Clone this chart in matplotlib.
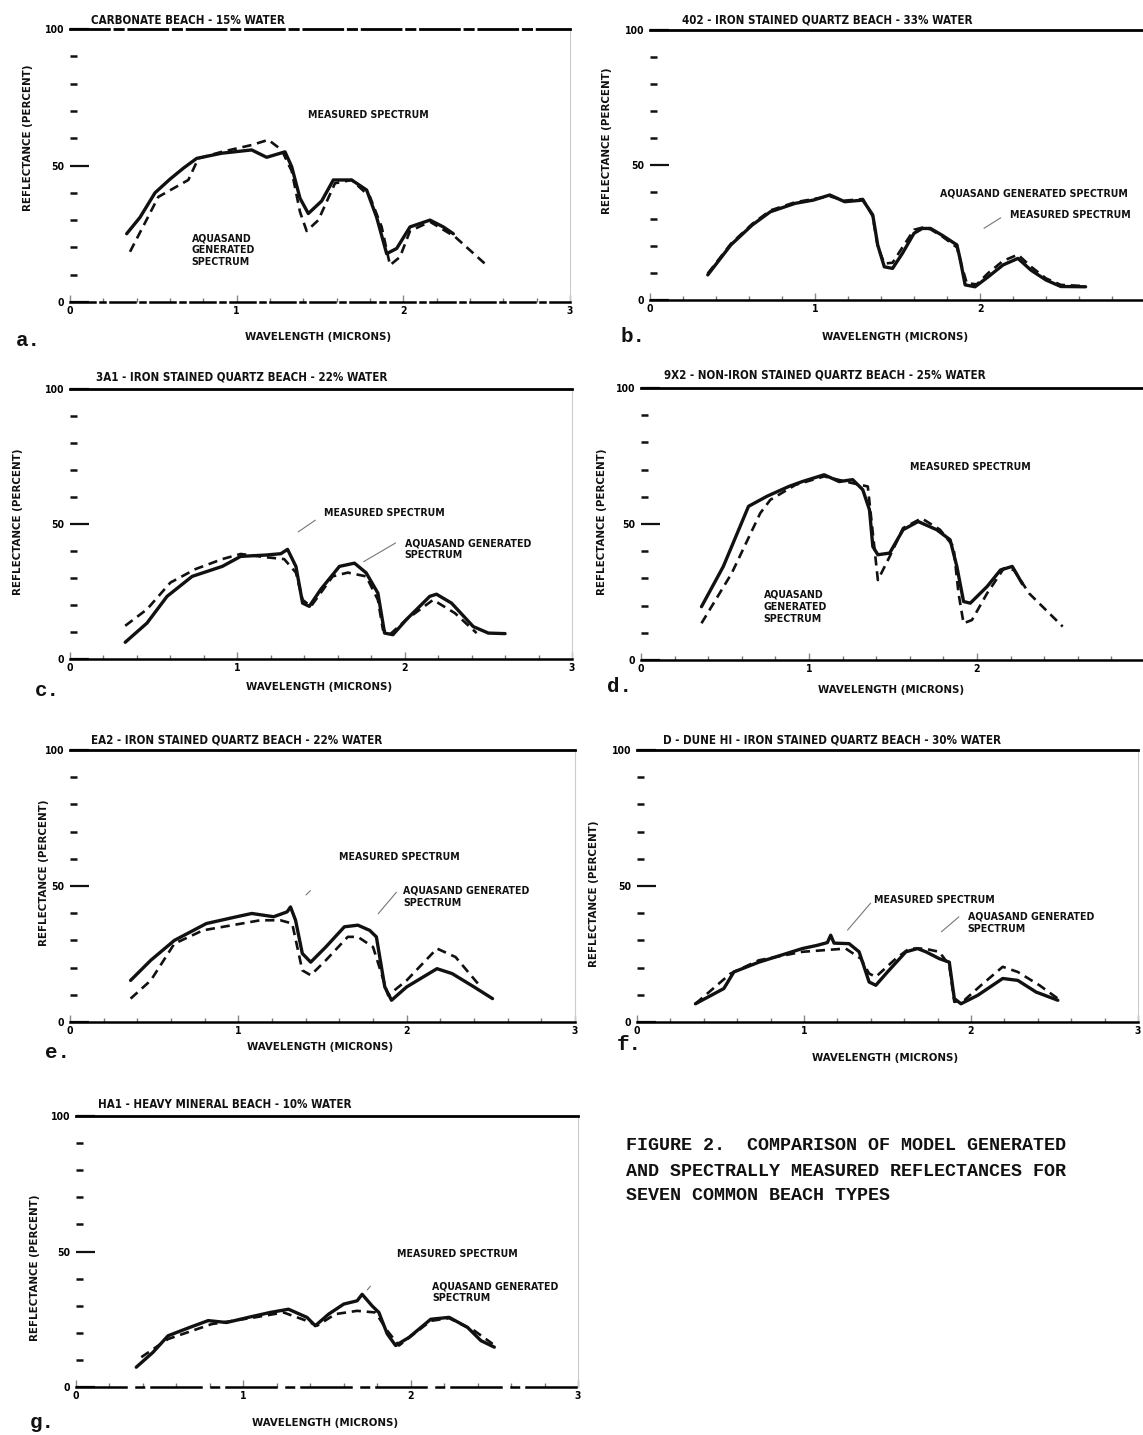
import numpy as np
import matplotlib
matplotlib.use("Agg")
import matplotlib.pyplot as plt

plt.rcParams['font.family'] = ['DejaVu Sans']
plt.rcParams['font.stretch'] = 'condensed'
plt.rcParams['font.weight'] = 'bold'

# ---- data (wavelength in microns, reflectance in %) ----
# a. carbonate beach
wl_meas_a = [0.34, 0.42, 0.51, 0.60, 0.68, 0.76, 0.91, 1.09, 1.18, 1.29, 1.33, 1.38, 1.43, 1.51,
             1.58, 1.69, 1.78, 1.84, 1.90, 1.96, 2.04, 2.16, 2.24, 2.30]
r_meas_a = [25, 31, 40, 45, 49, 52.6, 54.5, 55.7, 53, 55, 49.6, 38, 32.4, 37,
            44.7, 44.7, 41, 31, 17.7, 19.6, 27.5, 30, 27.5, 25]
wl_gen_a = [0.36, 0.45, 0.53, 0.71, 0.77, 0.91, 1.09, 1.19, 1.27, 1.33, 1.38, 1.42, 1.49, 1.59,
            1.69, 1.80, 1.87, 1.92, 1.98, 2.04, 2.16, 2.31, 2.49]
r_gen_a = [18.4, 29, 38.5, 44.7, 52.6, 55, 57.5, 59.4, 55.7, 48, 33, 26, 30, 43.5,
           44.7, 38.5, 27.5, 13.5, 16.5, 26, 29.4, 23.9, 14]

# b. 402 iron stained quartz
wl_meas_b = [0.35, 0.49, 0.62, 0.73, 0.88, 0.99, 1.09, 1.18, 1.29, 1.35, 1.38, 1.42, 1.47, 1.53,
             1.60, 1.65, 1.70, 1.77, 1.86, 1.88, 1.91, 1.97, 2.05, 2.14, 2.23, 2.31, 2.40, 2.49, 2.64]
r_meas_b = [9.3, 20.4, 27.8, 32.7, 35.8, 37, 38.9, 36.4, 37, 31.5, 20.4, 12.3, 11.7, 17.3,
            24.7, 26.5, 26.5, 24, 20.4, 15, 5.6, 4.9, 8.6, 13, 15.4, 11, 7.4, 5, 4.9]
wl_gen_b = [0.35, 0.49, 0.62, 0.73, 0.88, 0.99, 1.09, 1.18, 1.29, 1.35, 1.38, 1.42, 1.47, 1.53,
            1.60, 1.65, 1.70, 1.77, 1.86, 1.89, 1.92, 1.98, 2.05, 2.14, 2.23, 2.31, 2.40, 2.49, 2.62]
r_gen_b = [9.8, 20.8, 28.2, 33.2, 36.2, 37.4, 38.4, 36.8, 37.4, 31, 19.8, 13.5, 13.8, 19.5,
           26, 26.8, 26.2, 23.6, 19.5, 12.5, 6.2, 5.8, 10, 14.5, 16.8, 12.3, 8, 5.6, 5.2]

# c. 3A1
wl_meas_c = [0.33, 0.46, 0.58, 0.73, 0.91, 1.02, 1.17, 1.26, 1.30, 1.35, 1.39, 1.43, 1.50, 1.61,
             1.70, 1.77, 1.84, 1.88, 1.93, 2.01, 2.15, 2.19, 2.28, 2.41, 2.50, 2.60]
r_meas_c = [6.2, 13.3, 23.2, 30.6, 34.3, 38, 38.5, 39, 40.6, 34.3, 20.7, 19.5, 25.9, 34.3,
            35.5, 31.9, 24.4, 9.6, 9, 14.6, 23.2, 24, 20.7, 12, 9.6, 9.4]
wl_gen_c = [0.33, 0.46, 0.60, 0.75, 0.91, 1.02, 1.17, 1.28, 1.35, 1.39, 1.44, 1.57, 1.66, 1.77,
            1.84, 1.87, 1.91, 2.01, 2.17, 2.30, 2.43]
r_gen_c = [12.3, 18.4, 28.3, 33.3, 37, 38.9, 37.7, 37, 32, 21.9, 19.5, 30.6, 32, 30.6,
           21.9, 10.9, 9, 14.6, 21.9, 17, 9.6]

# d. non-iron stained quartz
wl_meas_d = [0.36, 0.49, 0.64, 0.75, 0.88, 0.96, 1.09, 1.18, 1.26, 1.32, 1.36, 1.38, 1.41, 1.48,
             1.56, 1.65, 1.76, 1.84, 1.88, 1.92, 1.96, 2.06, 2.14, 2.21, 2.27]
r_meas_d = [19.6, 34.4, 56.5, 60.2, 63.8, 65.6, 68.1, 65.6, 66.3, 62.6, 55.2, 41.7, 38.7, 39.3,
            47.9, 50.9, 47.9, 44.2, 34.4, 21.5, 20.9, 27, 33.1, 34.4, 28]
wl_gen_d = [0.36, 0.54, 0.71, 0.77, 0.92, 1.09, 1.26, 1.35, 1.38, 1.41, 1.48, 1.56, 1.67, 1.78,
            1.86, 1.89, 1.92, 1.97, 2.06, 2.16, 2.22, 2.31, 2.51]
r_gen_d = [13.5, 31.9, 54, 58.9, 64.4, 67.5, 65, 63.8, 46.6, 29.4, 38, 48.5, 52.1, 47.9,
           41.7, 24.5, 13.5, 14.7, 24.5, 33.7, 33.1, 24.5, 12.3]

# e. EA2
wl_meas_e = [0.36, 0.48, 0.62, 0.81, 0.99, 1.08, 1.21, 1.29, 1.31, 1.34, 1.38, 1.43, 1.52, 1.63,
             1.71, 1.78, 1.82, 1.87, 1.91, 2.00, 2.18, 2.27, 2.40, 2.51]
r_meas_e = [15.3, 22.7, 30, 36.2, 38.7, 39.9, 38.7, 40.5, 42.3, 37.4, 25.2, 22, 27.6, 35,
            35.6, 33.7, 31.3, 12.9, 8, 12.9, 19.6, 17.8, 12.9, 8.6]
wl_gen_e = [0.36, 0.48, 0.62, 0.79, 1.02, 1.13, 1.25, 1.32, 1.38, 1.43, 1.52, 1.65, 1.71, 1.80,
            1.85, 1.89, 2.00, 2.18, 2.29, 2.44]
r_gen_e = [8.6, 15.3, 28.8, 33.7, 36.2, 37.4, 37.4, 36.2, 19, 17.2, 22.7, 31.3, 31.3, 27.6,
           17.8, 9.8, 15.3, 27, 23.9, 12.9]

# f. dune HI
wl_meas_f = [0.35, 0.52, 0.58, 0.73, 0.86, 0.99, 1.08, 1.14, 1.16, 1.18, 1.27, 1.33, 1.39, 1.43,
             1.50, 1.61, 1.68, 1.73, 1.81, 1.87, 1.90, 1.94, 2.04, 2.19, 2.28, 2.39, 2.52]
r_meas_f = [6.7, 12.3, 18.4, 22, 24.5, 27, 28.2, 29.2, 31.9, 29, 28.8, 25.8, 14.7, 13.5,
            18.4, 25.8, 27, 25.8, 23.3, 22, 8.6, 6.7, 9.8, 16, 15.3, 11, 8]
wl_gen_f = [0.35, 0.56, 0.73, 0.99, 1.25, 1.34, 1.39, 1.43, 1.55, 1.63, 1.72, 1.81, 1.87, 1.90,
            1.96, 2.06, 2.19, 2.28, 2.41, 2.52]
r_gen_f = [6.7, 17.8, 22.7, 25.8, 27, 23.3, 17.8, 16.6, 23.3, 27, 27, 25.8, 20.9, 7.4,
           8, 13.5, 20.3, 18.4, 13.5, 8.6]

# g. heavy mineral
wl_meas_g = [0.36, 0.46, 0.55, 0.68, 0.79, 0.90, 1.03, 1.16, 1.27, 1.38, 1.43, 1.51, 1.60, 1.68,
             1.71, 1.77, 1.81, 1.86, 1.91, 1.99, 2.12, 2.23, 2.34, 2.42, 2.50]
r_meas_g = [7.3, 12.8, 18.9, 22, 24.5, 23.8, 25.7, 27.5, 28.7, 25.7, 22.6, 26.9, 30.6, 31.8,
            34.2, 29.9, 27.5, 19.6, 15.3, 18.3, 25, 25.7, 22, 17.1, 14.7]
wl_gen_g = [0.39, 0.55, 0.81, 1.07, 1.24, 1.38, 1.44, 1.55, 1.68, 1.79, 1.86, 1.93, 2.12, 2.23,
            2.38, 2.49]
r_gen_g = [11, 17.7, 23.2, 25.7, 27.5, 24.4, 22.6, 26.9, 28.1, 27.5, 20.8, 15.3, 24.4, 25.4,
           20.8, 15.9]

titles = {
    'a': "CARBONATE BEACH - 15% WATER",
    'b': "402 - IRON STAINED QUARTZ BEACH - 33% WATER",
    'c': "3A1 - IRON STAINED QUARTZ BEACH - 22% WATER",
    'd': "9X2 - NON-IRON STAINED QUARTZ BEACH - 25% WATER",
    'e': "EA2 - IRON STAINED QUARTZ BEACH - 22% WATER",
    'f': "D - DUNE HI - IRON STAINED QUARTZ BEACH - 30% WATER",
    'g': "HA1 - HEAVY MINERAL BEACH - 10% WATER",
}
letters = {'a': 'a.', 'b': 'b.', 'c': 'c.', 'd': 'd.', 'e': 'e.', 'f': 'f.', 'g': 'g.'}
xtick_labels = ['0', '1', '2', '3']

series = {
    'a': (wl_meas_a, r_meas_a, wl_gen_a, r_gen_a),
    'b': (wl_meas_b, r_meas_b, wl_gen_b, r_gen_b),
    'c': (wl_meas_c, r_meas_c, wl_gen_c, r_gen_c),
    'd': (wl_meas_d, r_meas_d, wl_gen_d, r_gen_d),
    'e': (wl_meas_e, r_meas_e, wl_gen_e, r_gen_e),
    'f': (wl_meas_f, r_meas_f, wl_gen_f, r_gen_f),
    'g': (wl_meas_g, r_meas_g, wl_gen_g, r_gen_g),
}

# ---- layout in pixels of the 1143 x 1435 page ----
W, H = 1143, 1435
# x of 0 micron, x of 3 micron, y of 100 %, y of 0 %
boxes = {
    'a': (70, 570, 29, 302),
    'b': (650, 1145, 30, 300),
    'c': (70, 572, 389, 659),
    'd': (641, 1145, 388, 660),
    'e': (70, 575, 750, 1022),
    'f': (637, 1138, 750, 1022),
    'g': (76, 578, 1116, 1387),
}
title_pos = {'a': (91, 20), 'b': (682, 20), 'c': (96, 377), 'd': (664, 375),
             'e': (91, 740), 'f': (663, 740), 'g': (98, 1105)}
letter_pos = {'a': (16, 340), 'b': (620, 337), 'c': (35, 690), 'd': (607, 686),
              'e': (45, 1052), 'f': (617, 1045), 'g': (30, 1422)}
ylab_x = {'a': 28, 'b': 607, 'c': 18, 'd': 602, 'e': 44, 'f': 594, 'g': 35}
ylab_frac = {'a': 0.60, 'b': 0.59, 'c': 0.51, 'd': 0.51, 'e': 0.55, 'f': 0.47, 'g': 0.44}
xlab_y = {'a': 337, 'b': 337, 'c': 687, 'd': 690, 'e': 1047, 'f': 1058, 'g': 1423}

ink = '#111111'
fs = 7.6


def px2fig(x, y):
    return x / W, 1 - y / H


fig = plt.figure(figsize=(W / 100, H / 100), dpi=100)
axes = {}
for k, (x0, x3, y100, y0) in boxes.items():
    ax = fig.add_axes([x0 / W, 1 - y0 / H, (x3 - x0) / W, (y0 - y100) / H])
    axes[k] = ax
    wm, rm, wg, rg = series[k]
    ax.plot(wg, rg, color=ink, lw=1.9, ls=(0, (3.5, 2.2)), solid_joinstyle='round')
    ax.plot(wm, rm, color=ink, lw=2.4, solid_joinstyle='round', solid_capstyle='round')
    ax.set_xlim(0, 3)
    ax.set_ylim(0, 100)
    ax.spines['left'].set_visible(False)
    ax.spines['right'].set_color('#cccccc')
    ax.spines['right'].set_linewidth(0.8)
    ax.spines['top'].set_linewidth(2.0)
    ax.spines['bottom'].set_linewidth(1.8)
    ax.set_yticks([0, 50, 100])
    ax.set_yticklabels(['0', '50', '100'])
    ax.set_yticks(np.arange(10, 100, 10), minor=True)
    ax.set_xticks([0, 1, 2, 3])
    if k in ('b', 'd'):
        ax.set_xticklabels(xtick_labels[:3] + [''])
    else:
        ax.set_xticklabels(xtick_labels)
    ax.set_xticks(np.arange(0.2, 3, 0.2), minor=True)
    ax.tick_params(axis='y', which='major', direction='in', length=14, width=1.6,
                   labelsize=7.5, pad=4, color=ink)
    ax.tick_params(axis='y', which='minor', direction='in', length=5, width=1.8, color=ink)
    ax.tick_params(axis='x', which='major', direction='in', length=5, width=1.0,
                   labelsize=7.5, pad=3, color='#888888')
    ax.tick_params(axis='x', which='minor', direction='in', length=3, width=1.0, color='#777777')
    ax.patch.set_alpha(0)

    tx, ty = title_pos[k]
    fig.text(*px2fig(tx, ty), titles[k], fontsize=8.3, va='center', ha='left', color=ink)
    lx, ly = letter_pos[k]
    fig.text(*px2fig(lx, ly), letters[k], fontsize=15, va='center', ha='left',
             family='Liberation Mono', weight='bold', stretch='normal', color=ink)
    ax.text((ylab_x[k] - x0) / (x3 - x0), ylab_frac[k], 'REFLECTANCE (PERCENT)',
            transform=ax.transAxes, rotation=90, fontsize=8.2, ha='center', va='center',
            color=ink)
    fig.text(((x0 + x3) / 2 - 2) / W, 1 - xlab_y[k] / H, 'WAVELENGTH (MICRONS)',
             fontsize=8.2, ha='center', va='center', color=ink)

# dash-dot baselines of the poorer scans
axes['a'].spines['bottom'].set_linestyle((0, (10, 2, 2, 2)))
axes['a'].spines['top'].set_linestyle((0, (14, 2, 3, 2)))
axes['g'].spines['bottom'].set_linestyle((0, (20, 4, 3, 3)))

# ---- annotation labels ----
lab = dict(fontsize=fs, color=ink, ha='left', va='center', linespacing=1.25)
ptr = dict(arrowstyle='-', color='#777777', lw=0.8)

ax = axes['a']
ax.text(1.43, 68.5, 'MEASURED SPECTRUM', **lab)
ax.text(0.73, 19, 'AQUASAND\nGENERATED\nSPECTRUM', **lab)

ax = axes['b']
ax.text(1.76, 39.5, 'AQUASAND GENERATED SPECTRUM', **lab)
ax.text(2.18, 31.5, 'MEASURED SPECTRUM', **lab)
ax.annotate('', xy=(2.01, 26), xytext=(2.14, 31), arrowprops=ptr)

ax = axes['c']
ax.text(1.52, 54, 'MEASURED SPECTRUM', **lab)
ax.annotate('', xy=(1.35, 46.5), xytext=(1.48, 52), arrowprops=ptr)
ax.text(2.0, 40.6, 'AQUASAND GENERATED\nSPECTRUM', **lab)
ax.annotate('', xy=(1.74, 35.5), xytext=(1.96, 43.5), arrowprops=ptr)

ax = axes['d']
ax.text(1.6, 71, 'MEASURED SPECTRUM', **lab)
ax.text(0.73, 19.5, 'AQUASAND\nGENERATED\nSPECTRUM', **lab)

ax = axes['e']
ax.text(1.6, 60.7, 'MEASURED SPECTRUM', **lab)
ax.annotate('', xy=(1.39, 46), xytext=(1.44, 49), arrowprops=ptr)
ax.text(1.98, 46, 'AQUASAND GENERATED\nSPECTRUM', **lab)
ax.annotate('', xy=(1.82, 39), xytext=(1.95, 48.5), arrowprops=ptr)

ax = axes['f']
ax.text(1.42, 44.8, 'MEASURED SPECTRUM', **lab)
ax.annotate('', xy=(1.25, 33), xytext=(1.41, 44.5), arrowprops=ptr)
ax.text(1.98, 36.5, 'AQUASAND GENERATED\nSPECTRUM', **lab)
ax.annotate('', xy=(1.81, 32.5), xytext=(1.94, 39.3), arrowprops=ptr)

ax = axes['g']
ax.text(1.92, 48.9, 'MEASURED SPECTRUM', **lab)
ax.text(2.13, 35, 'AQUASAND GENERATED\nSPECTRUM', **lab)
ax.annotate('', xy=(1.73, 35), xytext=(1.77, 38), arrowprops=ptr)

# ---- caption ----
cap = ["FIGURE 2.  COMPARISON OF MODEL GENERATED",
       "AND SPECTRALLY MEASURED REFLECTANCES FOR",
       "SEVEN COMMON BEACH TYPES"]
for line, y in zip(cap, [1145, 1171, 1195]):
    fig.text(*px2fig(626, y), line, fontsize=13.2, family='Liberation Mono',
             weight='bold', stretch='normal', va='center', ha='left', color=ink)

fig.savefig('out.png', dpi=100)
